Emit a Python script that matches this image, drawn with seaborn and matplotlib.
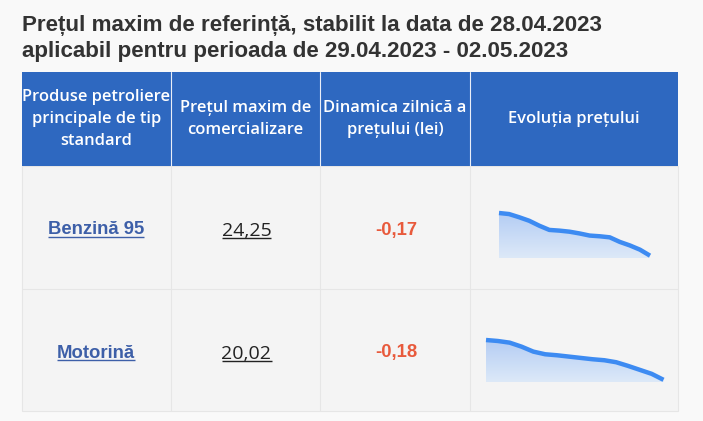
import matplotlib
matplotlib.use("Agg")
import matplotlib.pyplot as plt
from matplotlib.patches import Rectangle
from matplotlib.colors import LinearSegmentedColormap
import numpy as np
import pandas as pd
import seaborn as sns

title_lines = ["Prețul maxim de referință, stabilit la data de 28.04.2023",
               "aplicabil pentru perioada de 29.04.2023 - 02.05.2023"]
headers = ["Produse petroliere\nprincipale de tip\nstandard",
           "Prețul maxim de\ncomercializare",
           "Dinamica zilnică a\nprețului (lei)",
           "Evoluția prețului"]
products = ["Benzină 95", "Motorină"]
max_prices = ["24,25", "20,02"]
daily_change = ["-0,17", "-0,18"]

days = list(range(16))
benzina_history = [25.46, 25.43, 25.34, 25.24, 25.10, 24.98, 24.96, 24.93,
                   24.88, 24.82, 24.80, 24.77, 24.64, 24.54, 24.42, 24.25]
motorina_history = [21.22, 21.19, 21.14, 21.02, 20.87, 20.79, 20.76, 20.72,
                    20.68, 20.64, 20.61, 20.55, 20.44, 20.32, 20.20, 20.02]
histories = [benzina_history, motorina_history]

sns.set_theme(style="white")
plt.rcParams["font.family"] = ["Liberation Sans", "DejaVu Sans"]

W, H = 703, 421
fig = plt.figure(figsize=(W / 100, H / 100), dpi=100)
fig.patch.set_facecolor("#f9f9f9")
ax = fig.add_axes([0, 0, 1, 1])
ax.set_xlim(0, W)
ax.set_ylim(H, 0)
ax.axis("off")

# table geometry in pixels
left, right = 21.5, 678
cols = [left, 171, 320, 470, right]
top, head_bottom, row_split, bottom = 72, 166, 289, 411
border = "#e6e6e6"
blue = "#2e68c0"

ax.add_patch(Rectangle((left, head_bottom), right - left, bottom - head_bottom,
                       facecolor="#f4f4f4", edgecolor=border, lw=0.8))
ax.add_patch(Rectangle((left, top), right - left, head_bottom - top,
                       facecolor=blue, edgecolor="none"))
for x in cols[1:-1]:
    ax.plot([x, x], [top, head_bottom], color="#e9eef8", lw=0.8)
    ax.plot([x, x], [head_bottom, bottom], color=border, lw=0.8)
ax.plot([left, right], [row_split, row_split], color=border, lw=0.8)

# title
for i, line in enumerate(title_lines):
    ax.text(22, 31.5 + i * 25, line, fontsize=16.1, fontweight="bold",
            color="#333333", va="baseline", ha="left")

# header cells
for i, h in enumerate(headers):
    cx = (cols[i] + cols[i + 1]) / 2
    ax.text(cx, 119, h, ha="center", va="center", color="white",
            fontsize=11.9, fontweight="semibold", linespacing=1.5,
            family=["Open Sans", "DejaVu Sans"])

underlined = []
for r in range(2):
    base = [234.5, 357.5][r]
    t1 = ax.text((cols[0] + cols[1]) / 2, base, products[r], ha="center",
                 va="baseline", fontsize=13.3, fontweight="bold", color="#3d5fa8")
    t2 = ax.text((cols[1] + cols[2]) / 2 + 1, base + 1.5, max_prices[r],
                 ha="center", va="baseline", fontsize=14, color="#222222",
                 family=["Open Sans", "DejaVu Sans"])
    ax.text((cols[2] + cols[3]) / 2 + 1, base, daily_change[r], ha="center",
            va="baseline", fontsize=13.3, fontweight="bold", color="#e85a3c")
    underlined.append((t1, base + 2, "#3d5fa8"))
    underlined.append((t2, base + 3, "#222222"))

fig.canvas.draw()
inv = ax.transData.inverted()
for t, y, c in underlined:
    bb = t.get_window_extent()
    x0, _ = inv.transform((bb.x0, bb.y0))
    x1, _ = inv.transform((bb.x1, bb.y0))
    ax.plot([x0, x1], [y, y], color=c, lw=1.0, solid_capstyle="butt")

# sparklines: pixel boxes (x0, x1, y_top_of_max, y_baseline)
boxes = [(499, 650, 213, 258), (486, 663.5, 340, 382)]
grad = np.linspace(0, 1, 256).reshape(-1, 1)
fill_cmap = LinearSegmentedColormap.from_list("fill", ["#dde9f8", "#b4cdf4"])
for (x0, x1, yt, yb), hist in zip(boxes, histories):
    sax = fig.add_axes([x0 / W, 1 - yb / H, (x1 - x0) / W, (yb - yt) / H])
    sax.set_facecolor("none")
    df = pd.DataFrame({"day": days, "price": hist})
    lo = min(hist) - (max(hist) - min(hist)) * 0.055
    hi = max(hist)
    poly = sax.fill_between(df["day"], df["price"], lo, color="none")
    img = sax.imshow(grad, extent=[days[0], days[-1], lo, hi], origin="lower",
                     cmap=fill_cmap, aspect="auto", zorder=1)
    img.set_clip_path(poly.get_paths()[0], transform=sax.transData)
    sns.lineplot(data=df, x="day", y="price", ax=sax, color="#3d8bf2",
                 lw=3.2, solid_capstyle="butt", solid_joinstyle="round",
                 clip_on=False, zorder=3)
    sax.set_xlim(days[0], days[-1])
    sax.set_ylim(lo, hi)
    sax.axis("off")

fig.savefig("out.png", dpi=100, facecolor=fig.get_facecolor())
